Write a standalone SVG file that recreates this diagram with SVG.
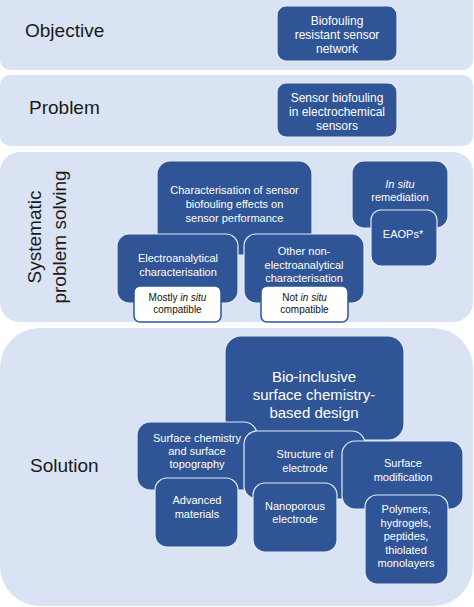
<svg xmlns="http://www.w3.org/2000/svg" width="474" height="607" viewBox="0 0 474 607">
<style>
text{font-family:"Liberation Sans",Arial,sans-serif;}
.panel{fill:#dae3f3;}
.lab{font-size:19px;fill:#1a1a1a;}
.node{fill:#2f5597;stroke:#e4ebf6;stroke-width:1.2;}
.wbox{fill:#ffffff;stroke:#2f5597;stroke-width:1.5;}
.t{fill:#ffffff;font-size:11px;text-anchor:middle;}
.t12{fill:#ffffff;font-size:12px;text-anchor:middle;}
.t15{fill:#ffffff;font-size:15px;text-anchor:middle;}
.tw{fill:#111111;font-size:10px;text-anchor:middle;}
</style>
<rect width="474" height="607" fill="#ffffff"/>
<g id="panels">
<rect class="panel" x="0" y="-10" width="473" height="80" rx="10"/>
<rect class="panel" x="0" y="75" width="473" height="71" rx="10"/>
<rect class="panel" x="0" y="152" width="473" height="170" rx="20"/>
<rect class="panel" x="0" y="328" width="473" height="278" rx="40"/>
</g>
<g id="labels">
<text class="lab" x="25" y="37">Objective</text>
<text class="lab" x="29" y="114">Problem</text>
<text class="lab" text-anchor="middle" transform="translate(41,237) rotate(-90)">Systematic</text>
<text class="lab" text-anchor="middle" transform="translate(66,237) rotate(-90)">problem solving</text>
<text class="lab" x="30" y="472">Solution</text>
</g>
<g id="connectors"/>
<g id="n-objective">
<rect class="node" x="277" y="6" width="120" height="55" rx="9"/>
<text class="t12" x="337" y="25">Biofouling</text>
<text class="t12" x="337" y="39">resistant sensor</text>
<text class="t12" x="337" y="53">network</text>
</g>
<g id="n-problem">
<rect class="node" x="277" y="83" width="120" height="54" rx="9"/>
<text class="t12" x="337" y="102">Sensor biofouling</text>
<text class="t12" x="337" y="116">in electrochemical</text>
<text class="t12" x="337" y="130">sensors</text>
</g>
<g id="n-characterisation">
<rect class="node" x="157" y="161" width="155" height="94" rx="13"/>
<text class="t" x="234.5" y="194">Characterisation of sensor</text>
<text class="t" x="234.5" y="208">biofouling effects on</text>
<text class="t" x="234.5" y="221.5">sensor performance</text>
</g>
<g id="n-remediation">
<rect class="node" x="352" y="161" width="96" height="67" rx="12"/>
<text class="t" x="400" y="188" font-style="italic">In situ</text>
<text class="t" x="400" y="201">remediation</text>
</g>
<g id="n-eaops">
<rect class="node" x="371" y="210" width="66" height="56" rx="10"/>
<text class="t" x="403" y="238">EAOPs*</text>
</g>
<g id="n-electroanalytical">
<rect class="node" x="117" y="234" width="121" height="69" rx="12"/>
<text class="t" x="178" y="262">Electroanalytical</text>
<text class="t" x="178" y="276">characterisation</text>
</g>
<g id="n-other">
<rect class="node" x="244" y="234" width="120" height="69" rx="12"/>
<text class="t" x="304" y="255">Other non-</text>
<text class="t" x="304" y="268.5">electroanalytical</text>
<text class="t" x="304" y="282">characterisation</text>
</g>
<g id="n-mostly">
<rect class="wbox" x="134" y="286" width="87" height="36" rx="6"/>
<text class="tw" x="177.5" y="301">Mostly <tspan font-style="italic">in situ</tspan></text>
<text class="tw" x="177.5" y="313">compatible</text>
</g>
<g id="n-not">
<rect class="wbox" x="261" y="286" width="87" height="36" rx="6"/>
<text class="tw" x="304.5" y="301">Not <tspan font-style="italic">in situ</tspan></text>
<text class="tw" x="304.5" y="313">compatible</text>
</g>
<g id="n-bioinclusive">
<rect class="node" x="225" y="336" width="179" height="104" rx="16"/>
<text class="t15" x="314" y="382">Bio-inclusive</text>
<text class="t15" x="314" y="400">surface chemistry-</text>
<text class="t15" x="314" y="418">based design</text>
</g>
<g id="n-surfacechem">
<rect class="node" x="137" y="422" width="120" height="68" rx="13"/>
<text class="t" x="197" y="442">Surface chemistry</text>
<text class="t" x="197" y="455">and surface</text>
<text class="t" x="197" y="468">topography</text>
</g>
<g id="n-advanced">
<rect class="node" x="155" y="478" width="83" height="69" rx="12"/>
<text class="t" x="197" y="504">Advanced</text>
<text class="t" x="197" y="517.5">materials</text>
</g>
<g id="n-structure">
<rect class="node" x="244" y="431" width="121" height="68" rx="13"/>
<text class="t" x="305" y="458">Structure of</text>
<text class="t" x="305" y="471.5">electrode</text>
</g>
<g id="n-nanoporous">
<rect class="node" x="253" y="483" width="84" height="69" rx="12"/>
<text class="t" x="295" y="510">Nanoporous</text>
<text class="t" x="295" y="523">electrode</text>
</g>
<g id="n-surfacemod">
<rect class="node" x="342" y="441" width="121" height="68" rx="13"/>
<text class="t" x="403" y="467">Surface</text>
<text class="t" x="403" y="480.5">modification</text>
</g>
<g id="n-polymers">
<rect class="node" x="365" y="495" width="83" height="89" rx="12"/>
<text class="t" x="406" y="513">Polymers,</text>
<text class="t" x="406" y="526.5">hydrogels,</text>
<text class="t" x="406" y="540">peptides,</text>
<text class="t" x="406" y="553.5">thiolated</text>
<text class="t" x="406" y="567">monolayers</text>
</g>
</svg>
